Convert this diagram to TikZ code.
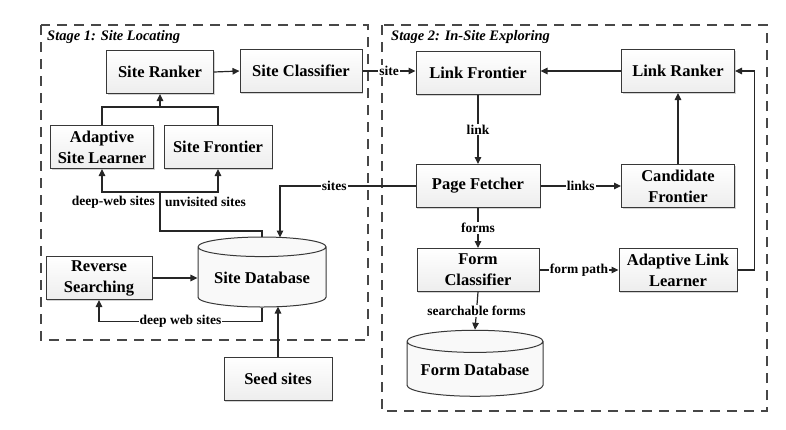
\documentclass[tikz,border=0pt]{standalone}
\usepackage{fontspec}
\setmainfont{Liberation Serif}
\usetikzlibrary{arrows.meta,calc,shapes.geometric,shadows}

\tikzset{
  block/.style={draw=black!78, line width=1pt, top color=white, bottom color=gray!14,
    drop shadow={shadow xshift=1pt, shadow yshift=-1pt, opacity=0.35},
    align=center, inner sep=1pt, minimum height=43pt,
    font=\fontsize{16.5}{21}\selectfont\bfseries},
  store/.style={cylinder, shape border rotate=90, aspect=0.2, draw=black!78, line width=1pt,
    fill=gray!5, inner sep=1pt, font=\fontsize{16.5}{21}\selectfont\bfseries},
  stage/.style={draw=black!72, line width=2.5pt, dash pattern=on 10pt off 7pt},
  title/.style={anchor=west, inner sep=0pt, font=\fontsize{14.5}{16}\selectfont\bfseries\itshape},
  flow/.style={draw=black!85, line width=1.2pt, -{Triangle[length=7pt,width=6.5pt]}},
  wire/.style={draw=black!85, line width=1.2pt},
  tag/.style={fill=white, inner sep=1pt, font=\fontsize{13.5}{15}\selectfont\bfseries},
}

\begin{document}
\begin{tikzpicture}[x=1pt,y=-1pt]
    \useasboundingbox (0,0) rectangle (786,429);

    % Stage frames
    \draw[stage] (41,25) rectangle (368,340);
    \draw[stage] (382,25) rectangle (767,411);
    \node[title] (st1) at (47,37) {Stage 1: Site Locating};
    \node[title] (st2) at (391,37) {Stage 2: In-Site Exploring};

    % Stage 1 blocks
    \node[block, minimum width=107pt] (sr) at (160,72) {Site Ranker};
    \node[block, minimum width=122pt] (sc) at (301,71) {Site Classifier};
    \node[block, minimum width=103pt] (asl) at (102,147) {Adaptive\\Site Learner};
    \node[block, minimum width=108pt] (sf) at (218,147) {Site Frontier};
    \node[block, minimum width=106pt] (rs) at (99,278) {Reverse\\Searching};
    \node[store, minimum width=128pt, minimum height=70pt] (sdb) at (262,278) {Site Database};
    \node[block, minimum width=108pt] (seed) at (278,379) {Seed sites};

    % Stage 2 blocks
    \node[block, minimum width=124pt] (lf) at (478,73) {Link Frontier};
    \node[block, minimum width=113pt] (lr) at (678,71) {Link Ranker};
    \node[block, minimum width=124pt] (pf) at (478,186) {Page Fetcher};
    \node[block, minimum width=113pt] (cf) at (678,186) {Candidate\\Frontier};
    \node[block, minimum width=122pt] (fc) at (478,270) {Form\\Classifier};
    \node[block, minimum width=118pt] (all) at (678,270) {Adaptive Link\\Learner};
    \node[store, minimum width=136pt, minimum height=66pt] (fdb) at (475,370) {Form Database};

    % Stage 1 connectors
    \draw[flow] (sr.east) -- (sc.west);
    \coordinate (up) at (160,107);
    \draw[wire] (asl.north) |- (up);
    \draw[wire] (sf.north) |- (up);
    \draw[flow] (up) -- (sr.south);
    \coordinate (fork) at (160,192);
    \coordinate (bend) at (160,231);
    \draw[wire] (sdb.north) |- (bend) -- (fork);
    \draw[flow] (fork) -| (asl.south);
    \draw[flow] (fork) -| (sf.south);
    \node[tag, anchor=east] (dws) at (156,202) {deep-web sites};
    \node[tag, anchor=west] (uvs) at (164,202) {unvisited sites};
    \draw[flow] (rs.east) -- (rs.east -| sdb.west);
    \draw[flow] (sdb.south) -- ++(0,14) -| (rs.south)
        node[tag, pos=0.25] {deep web sites};
    \draw[flow] (seed.north) -- ($(seed.north |- sdb.south)+(0,-1)$);

    % Stage 2 connectors
    \draw[flow] (sc.east) -- (sc.east -| lf.west) node[tag, midway] {site};
    \draw[flow] (lr.west) -- (lr.west -| lf.east);
    \draw[flow] (lf.south) -- (pf.north) node[tag, midway] {link};
    \draw[flow] (pf.west) -| ($(sdb.north)+(18,1)$) node[tag, pos=0.3] {sites};
    \draw[flow] (pf.east) -- (pf.east -| cf.west) node[tag, midway] {links};
    \draw[flow] (cf.north) -- (lr.south);
    \draw[flow] (pf.south) -- (fc.north) node[tag, midway] {forms};
    \draw[flow] (fc.south) -- (fdb.north) node[tag, midway] {searchable forms};
    \draw[flow] (fc.east) -- (all.west) node[tag, midway] {form path};
    \draw[flow] (all.east) -- ++(17,0) |- (lr.east);
\end{tikzpicture}
\end{document}
